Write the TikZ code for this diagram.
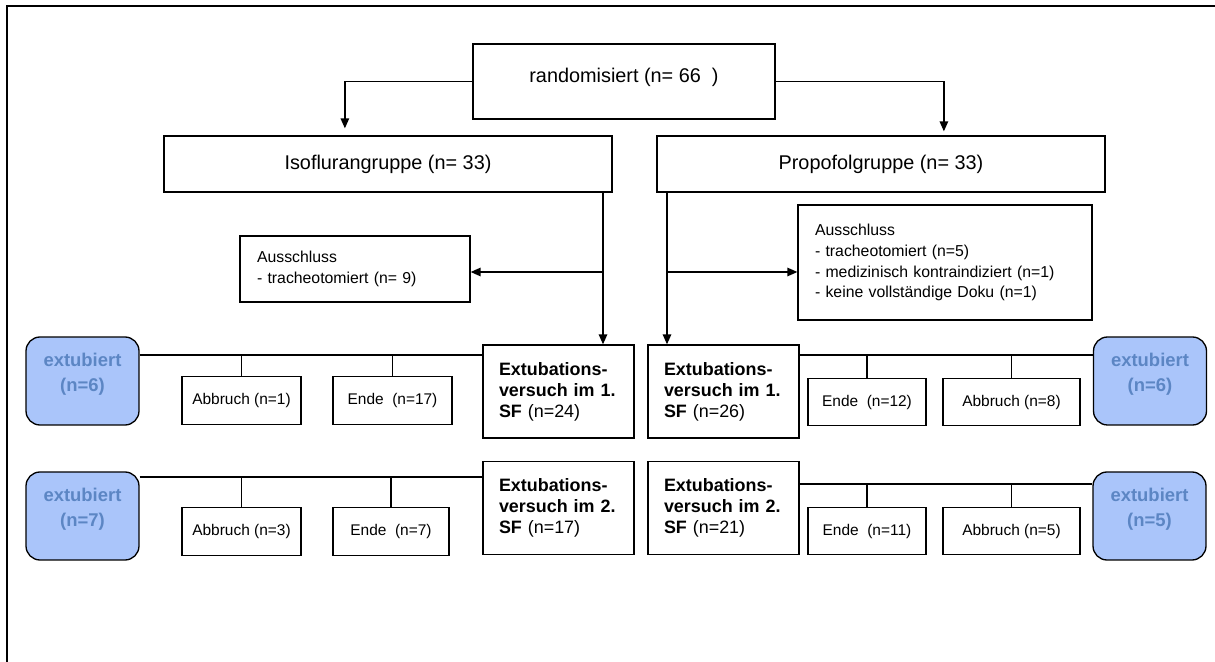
\documentclass[tikz,border=0pt]{standalone}
\usepackage{fontspec}
\setmainfont{Liberation Sans}
\usetikzlibrary{arrows.meta}
\usetikzlibrary{calc}
\usepackage{xcolor}

\definecolor{extfill}{RGB}{170,197,250}
\definecolor{exttext}{RGB}{92,134,196}

\begin{document}
\begin{tikzpicture}[x=0.02cm, y=-0.02cm, line width=0.75pt,
    >={Triangle[length=0.2cm,width=0.17cm]},
    bigbox/.style={draw, minimum width=#1, minimum height=1.12cm, font=\fontsize{11.3}{13.5}\selectfont},
    ausbox/.style={draw, text width=#1, inner xsep=0.34cm, align=left, font=\fontsize{9}{11.9}\selectfont},
    versuch/.style={draw, text width=2.38cm, inner xsep=0.32cm, minimum height=1.86cm, align=left, font=\fontsize{10.2}{11.9}\selectfont},
    small/.style={draw, minimum width=#1, minimum height=0.95cm, font=\fontsize{8.8}{10}\selectfont},
    ext/.style={draw, rounded corners=0.28cm, fill=extfill, text=exttext, minimum width=2.26cm, minimum height=1.76cm, align=center, text depth=0.35cm, font=\bfseries\fontsize{10.5}{14}\selectfont}]
            \useasboundingbox (0,0) rectangle (1215,662);
            \draw[line width=1.3pt] (7,662) -- (7,6) -- (1215,6);

            \node[bigbox=6.04cm, minimum height=1.5cm, text depth=0.25cm] (rand) at (624, 81.5) {randomisiert (n= 66\ \ )};
            \node[bigbox=8.96cm] (iso) at (388, 164) {Isoflurangruppe (n= 33)};
            \node[bigbox=8.96cm] (prop) at (881, 164) {Propofolgruppe (n= 33)};

            \node[ausbox=3.92cm, minimum height=1.32cm] (ausl) at (355, 269) {Ausschluss\\- tracheotomiert (n= 9)};
            \node[ausbox=5.2cm, minimum height=2.3cm] (ausr) at (945, 262.5) {Ausschluss\\- tracheotomiert (n=5)\\- medizinisch kontraindiziert (n=1)\\- keine vollständige Doku (n=1)};

            \node[versuch] (v1l) at (558.5, 391.5) {\textbf{Extubations-}\\\textbf{versuch im 1.}\\\textbf{SF} (n=24)};
            \node[versuch] (v1r) at (723.5, 391.5) {\textbf{Extubations-}\\\textbf{versuch im 1.}\\\textbf{SF} (n=26)};
            \node[versuch] (v2l) at (558.5, 508) {\textbf{Extubations-}\\\textbf{versuch im 2.}\\\textbf{SF} (n=17)};
            \node[versuch] (v2r) at (723.5, 508) {\textbf{Extubations-}\\\textbf{versuch im 2.}\\\textbf{SF} (n=21)};

            \node[ext] (ext1l) at (82.5, 381) {extubiert\\(n=6)};
            \node[ext] (ext2l) at (82.5, 516) {extubiert\\(n=7)};
            \node[ext] (ext1r) at (1150, 381) {extubiert\\(n=6)};
            \node[ext] (ext2r) at (1149.5, 516) {extubiert\\(n=5)};

            \node[small=2.38cm] (abb1l) at (241.5, 400.5) {Abbruch (n=1)};
            \node[small=2.38cm] (end1l) at (392.5, 400.5) {Ende\ \ (n=17)};
            \node[small=2.38cm] (abb2l) at (241.5, 531.5) {Abbruch (n=3)};
            \node[small=2.32cm] (end2l) at (391, 531.5) {Ende\ \ (n=7)};
            \node[small=2.36cm] (end1r) at (867, 402) {Ende\ \ (n=12)};
            \node[small=2.74cm] (abb1r) at (1011.5, 402) {Abbruch (n=8)};
            \node[small=2.36cm] (end2r) at (867, 531) {Ende\ \ (n=11)};
            \node[small=2.74cm] (abb2r) at (1011.5, 531) {Abbruch (n=5)};

            % helper coordinates for the branch lines
            \coordinate (isodown) at (603, 0);
            \coordinate (propdown) at (667, 0);
            \coordinate (aus) at (0, 272);
            \coordinate (h1l) at (0, 355);
            \coordinate (h1r) at (0, 355);
            \coordinate (h2l) at (0, 477);
            \coordinate (h2r) at (0, 484);

            \draw[->, shorten >=0.14cm] (rand.west) -| ($(iso.north west)!0.404!(iso.north east)$);
            \draw[->, shorten >=0.08cm] (rand.east) -| ($(prop.north west)!0.64!(prop.north east)$);

            \draw[->] (iso.south -| isodown) -- (v1l.north -| isodown);
            \draw[->] (prop.south -| propdown) -- (v1r.north -| propdown);
            \draw[->] (isodown |- aus) -- (ausl.east |- aus);
            \draw[->] (propdown |- aus) -- (ausr.west |- aus);

            \draw (ext1l.east |- h1l) -- (v1l.west |- h1l);
            \draw (abb1l.north) -- (abb1l.north |- h1l);
            \draw (end1l.north) -- (end1l.north |- h1l);
            \draw (ext2l.east |- h2l) -- (v2l.west |- h2l);
            \draw (abb2l.north) -- (abb2l.north |- h2l);
            \draw (end2l.north) -- (end2l.north |- h2l);

            \draw (v1r.east |- h1r) -- (ext1r.west |- h1r);
            \draw (end1r.north) -- (end1r.north |- h1r);
            \draw (abb1r.north) -- (abb1r.north |- h1r);
            \draw (v2r.east |- h2r) -- (ext2r.west |- h2r);
            \draw (end2r.north) -- (end2r.north |- h2r);
            \draw (abb2r.north) -- (abb2r.north |- h2r);
        \end{tikzpicture}
\end{document}
